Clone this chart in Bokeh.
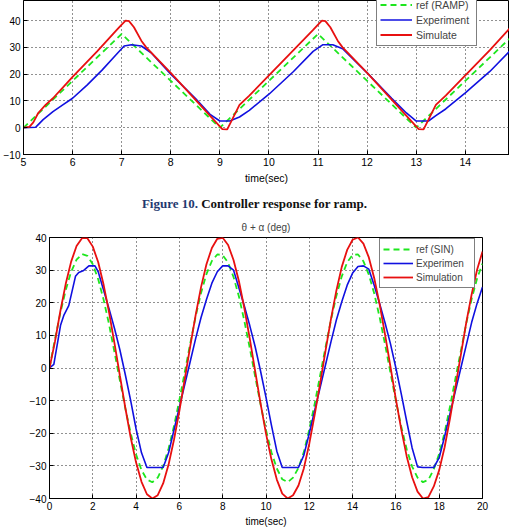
from bokeh.plotting import figure
from bokeh.models import Range1d, Legend, LegendItem, Div, FixedTicker
from bokeh.embed import file_html
from bokeh.resources import INLINE

# ---------------- data: ramp response (Figure 10) ----------------
ramp_ref_t = [5, 7, 9, 11, 13, 15]
ramp_ref = [0, 35, 0, 35, 0, 35]

ramp_exp_t = [5.0, 5.25, 5.4, 5.6, 5.8, 6.0, 6.3, 6.6, 6.9, 7.05, 7.2, 7.4, 7.6, 8.0, 8.5,
              8.8, 9.0, 9.2, 9.4, 9.6, 10.0, 10.5, 10.9, 11.1, 11.3, 11.5, 12.0, 12.5,
              12.8, 13.0, 13.25, 13.4, 13.6, 14.0, 14.5, 14.9]
ramp_exp = [0, 0.2, 3, 6, 8.5, 11, 16, 21.5, 27.5, 30.5, 31, 30.5, 28, 20, 11,
            5, 2.5, 2.5, 4, 6.5, 12.5, 21, 28.5, 31, 31, 29.5, 20.5, 11,
            5.5, 2.5, 2.5, 4.5, 7, 13, 21, 28.5]

ramp_sim_t = [5.0, 5.12, 5.2, 5.3, 5.45, 5.6, 5.8, 6.0, 6.5, 6.9, 7.0, 7.08, 7.15, 7.25,
              7.4, 7.5, 8.0, 8.5, 8.9, 9.05, 9.15, 9.25, 9.4, 9.6, 10.0, 10.5, 10.9,
              11.0, 11.08, 11.15, 11.25, 11.4, 11.5, 12.0, 12.5, 12.9, 13.05, 13.15,
              13.25, 13.4, 13.6, 14.0, 14.5, 14.9]
ramp_sim = [0, 0.3, 2, 5.5, 8.5, 11, 15, 19, 28.5, 36.5, 38.5, 40, 39.8, 37.5,
            32.5, 30, 20.5, 10.5, 2.5, -0.5, -0.6, 3, 8.5, 12, 19.5, 29, 36.5,
            38.5, 40, 39.8, 37.5, 32.5, 30, 20.5, 10.5, 2.5, -0.5, -0.6,
            3, 8.5, 12, 19.5, 29, 37]

ramp_xticks = [5, 6, 7, 8, 9, 10, 11, 12, 13, 14]
ramp_yticks = [-10, 0, 10, 20, 30, 40, 50]

# ---------------- data: sine response ----------------
sin_t = [i * 0.25 for i in range(81)]
sin_ref = [0, 8.7, 16.8, 23.9, 29.5, 33.2, 34.9, 34.4, 31.8, 27.2, 20.9, 13.4, 4.9,
           -3.8, -12.3, -20.0, -26.5, -31.3, -34.2, -35.0, -33.6, -30.1, -24.7, -17.8,
           -9.8, -1.2, 7.5, 15.8, 23.0, 28.8, 32.8, 34.8, 34.6, 32.3, 27.9, 21.9, 14.4,
           6.1, -2.6, -11.2, -19.0, -25.8, -30.8, -34.1, -35.0, -33.6, -30.6, -25.7,
           -18.8, -10.9, -2.3, 6.4, 14.7, 22.1, 28.1, 32.4, 34.7, 34.8, 32.7, 28.6,
           22.8, 15.5, 7.2, -1.5, -10.1, -18.0, -24.9, -30.2, -33.6, -35.0, -34.3,
           -31.0, -26.3, -19.8, -11.8, -3.2, 5.2, 13.7, 21.2, 27.4, 32.0]
sin_sim = [0, 8.0, 17.4, 25.8, 32.6, 37.4, 39.8, 39.8, 37.2, 32.4, 25.5, 17.1, 7.6,
           -2.3, -12.1, -21.3, -29.0, -34.9, -38.7, -40.0, -39.0, -35.4, -29.6, -22.0,
           -13.1, -3.3, 6.6, 16.2, 24.8, 31.8, 36.8, 39.6, 39.9, 37.7, 33.1, 26.6, 18.3,
           9.0, -1.0, -10.9, -20.1, -28.0, -34.2, -38.5, -40.0, -39.0, -36.0, -30.7,
           -23.2, -14.3, -4.7, 5.3, 15.0, 23.7, 31.0, 36.2, 39.3, 40.0, 38.1, 33.9,
           27.5, 19.5, 10.2, 0.3, -9.6, -18.9, -27.1, -33.5, -37.9, -40.0, -39.6,
           -36.3, -31.3, -24.3, -15.4, -5.7, 4.0, 13.9, 22.6, 30.1, 35.7]
sin_exp_t = [0, 0.2, 0.51, 0.66, 0.89, 1.2, 1.35, 1.58, 1.82, 2.1, 2.25, 2.5, 2.75,
             3.0, 3.25, 3.5, 3.75, 4.0, 4.25, 4.5, 4.75, 5.0, 5.25, 5.5, 5.75, 6.0,
             6.25, 6.5, 6.75, 7.0, 7.25, 7.5, 7.75, 8.0, 8.25, 8.5, 8.75, 9.0, 9.25,
             9.5, 9.75, 10.0, 10.25, 10.5, 10.75, 11.0, 11.25, 11.5, 11.75, 12.0,
             12.25, 12.5, 12.75, 13.0, 13.25, 13.5, 13.75, 14.0, 14.25, 14.5, 14.75,
             15.0, 15.25, 15.5, 15.75, 16.0, 16.25, 16.5, 16.75, 17.0, 17.25, 17.5,
             17.75, 18.0, 18.25, 18.5, 18.75, 19.0, 19.25, 19.5, 19.75, 20.0]
sin_exp = [0, 1.1, 13.1, 16.1, 19.1, 28.1, 29.3, 29.9, 31.3, 31.3, 29.5, 23.8, 18.2,
           12.2, 5.6, -2, -10, -18.7, -26, -30.5, -30.5, -30.5, -30.5, -26, -19, -12,
           -5, 2, 9, 15.5, 21, 26, 29.5, 31.3, 31.3, 30, 24.5, 19, 13,
           6.5, -1, -9, -17.5, -25.5, -30.5, -30.5, -30.5, -30.5, -26.7, -20,
           -13, -6, 1, 8, 14.7, 20.3, 25.4, 29.1, 31.1, 31.3, 30.3,
           25.3, 19.7, 13.8, 7.4, 0, -8, -16.4, -24.5, -30.3, -30.5, -30.5,
           -30.5, -27.5, -21, -14, -7, 0, 7, 14, 19.8, 24.8]

sin_xticks = [0, 2, 4, 6, 8, 10, 12, 14, 16, 18, 20]
sin_yticks = [-40, -30, -20, -10, 0, 10, 20, 30, 40]

FONT = "Liberation Sans"
GREEN = "#1ee61e"
BLUE = "#1010e0"
RED = "#e81010"


def style(p, fs, xticks, yticks):
    p.outline_line_color = "black"
    p.outline_line_width = 1
    p.background_fill_color = "white"
    p.border_fill_color = "white"
    p.xaxis.ticker = FixedTicker(ticks=xticks)
    p.yaxis.ticker = FixedTicker(ticks=yticks)
    for ax in (p.xaxis[0], p.yaxis[0]):
        ax.major_tick_in = 4
        ax.major_tick_out = 0
        ax.minor_tick_line_color = None
        ax.axis_line_color = "black"
        ax.major_tick_line_color = "black"
        ax.major_label_text_font = FONT
        ax.major_label_text_font_size = fs
        ax.major_label_text_color = "black"
        ax.axis_label_text_font = FONT
        ax.axis_label_text_font_size = fs
        ax.axis_label_text_font_style = "normal"
        ax.axis_label_text_color = "black"
    p.xaxis.major_label_standoff = 3
    p.yaxis.major_label_standoff = 3
    p.xaxis.axis_label_standoff = 3
    p.grid.grid_line_color = "#222222"
    p.grid.grid_line_dash = "1 3"
    p.grid.grid_line_width = 1


# ---------------- top chart ----------------
p1 = figure(width=509, height=186, x_range=Range1d(5, 14.9), y_range=Range1d(-10, 47.5),
            output_backend="svg", toolbar_location=None,
            min_border_left=18, min_border_right=0, min_border_top=0, min_border_bottom=10)
p1.xaxis.axis_label = "time(sec)"
style(p1, "10.5px", ramp_xticks, ramp_yticks)
p1.yaxis.major_label_text_font_size = "10px"

g1 = p1.line(ramp_ref_t, ramp_ref, line_color=GREEN, line_width=1.8, line_dash="6 4")
b1 = p1.line(ramp_exp_t, ramp_exp, line_color=BLUE, line_width=1.6)
r1 = p1.line(ramp_sim_t, ramp_sim, line_color=RED, line_width=1.8)

leg1 = Legend(items=[LegendItem(label="ref (RAMP)", renderers=[g1]),
                     LegendItem(label="Experiment", renderers=[b1]),
                     LegendItem(label="Simulate", renderers=[r1])],
              location=(353, 108), label_text_font=FONT, label_text_font_size="10.5px",
              glyph_width=32, glyph_height=15, label_height=15, label_width=57,
              label_standoff=4, spacing=0, padding=3, margin=0,
              border_line_color="black", border_line_width=1, background_fill_alpha=1)
p1.add_layout(leg1)

caption = Div(text='<div style="width:509px;text-align:center;font-family:\'Liberation Serif\';'
                   'font-weight:bold;font-size:13px;padding-top:9px;color:#111;">'
                   '<span style="color:#1f3a70;">Figure 10.</span> Controller response for ramp.</div>',
              width=509, height=28, margin=0)

# ---------------- bottom chart ----------------
p2 = figure(width=509, height=315, x_range=Range1d(0, 20), y_range=Range1d(-40, 40),
            output_backend="svg", toolbar_location=None, title="θ + α (deg)",
            min_border_left=49, min_border_right=27, min_border_top=22, min_border_bottom=29)
p2.title.align = "center"
p2.title.text_font = FONT
p2.title.text_font_size = "10px"
p2.title.text_font_style = "normal"
p2.xaxis.axis_label = "time(sec)"
style(p2, "10px", sin_xticks, sin_yticks)

g2 = p2.line(sin_t, sin_ref, line_color=GREEN, line_width=1.8, line_dash="6 4")
b2 = p2.line(sin_exp_t, sin_exp, line_color=BLUE, line_width=1.6)
r2 = p2.line(sin_t, sin_sim, line_color=RED, line_width=1.8)

leg2 = Legend(items=[LegendItem(label="ref (SIN)", renderers=[g2]),
                     LegendItem(label="Experimen", renderers=[b2]),
                     LegendItem(label="Simulation", renderers=[r2])],
              location=(330, 210), label_text_font=FONT, label_text_font_size="10px",
              glyph_width=30, glyph_height=14, label_height=14, label_width=55,
              label_standoff=3, spacing=0, padding=3, margin=0,
              border_line_color="black", border_line_width=1, background_fill_alpha=1)
p2.add_layout(leg2)

open("out.html", "w").write(file_html([p1, caption, p2], INLINE))
